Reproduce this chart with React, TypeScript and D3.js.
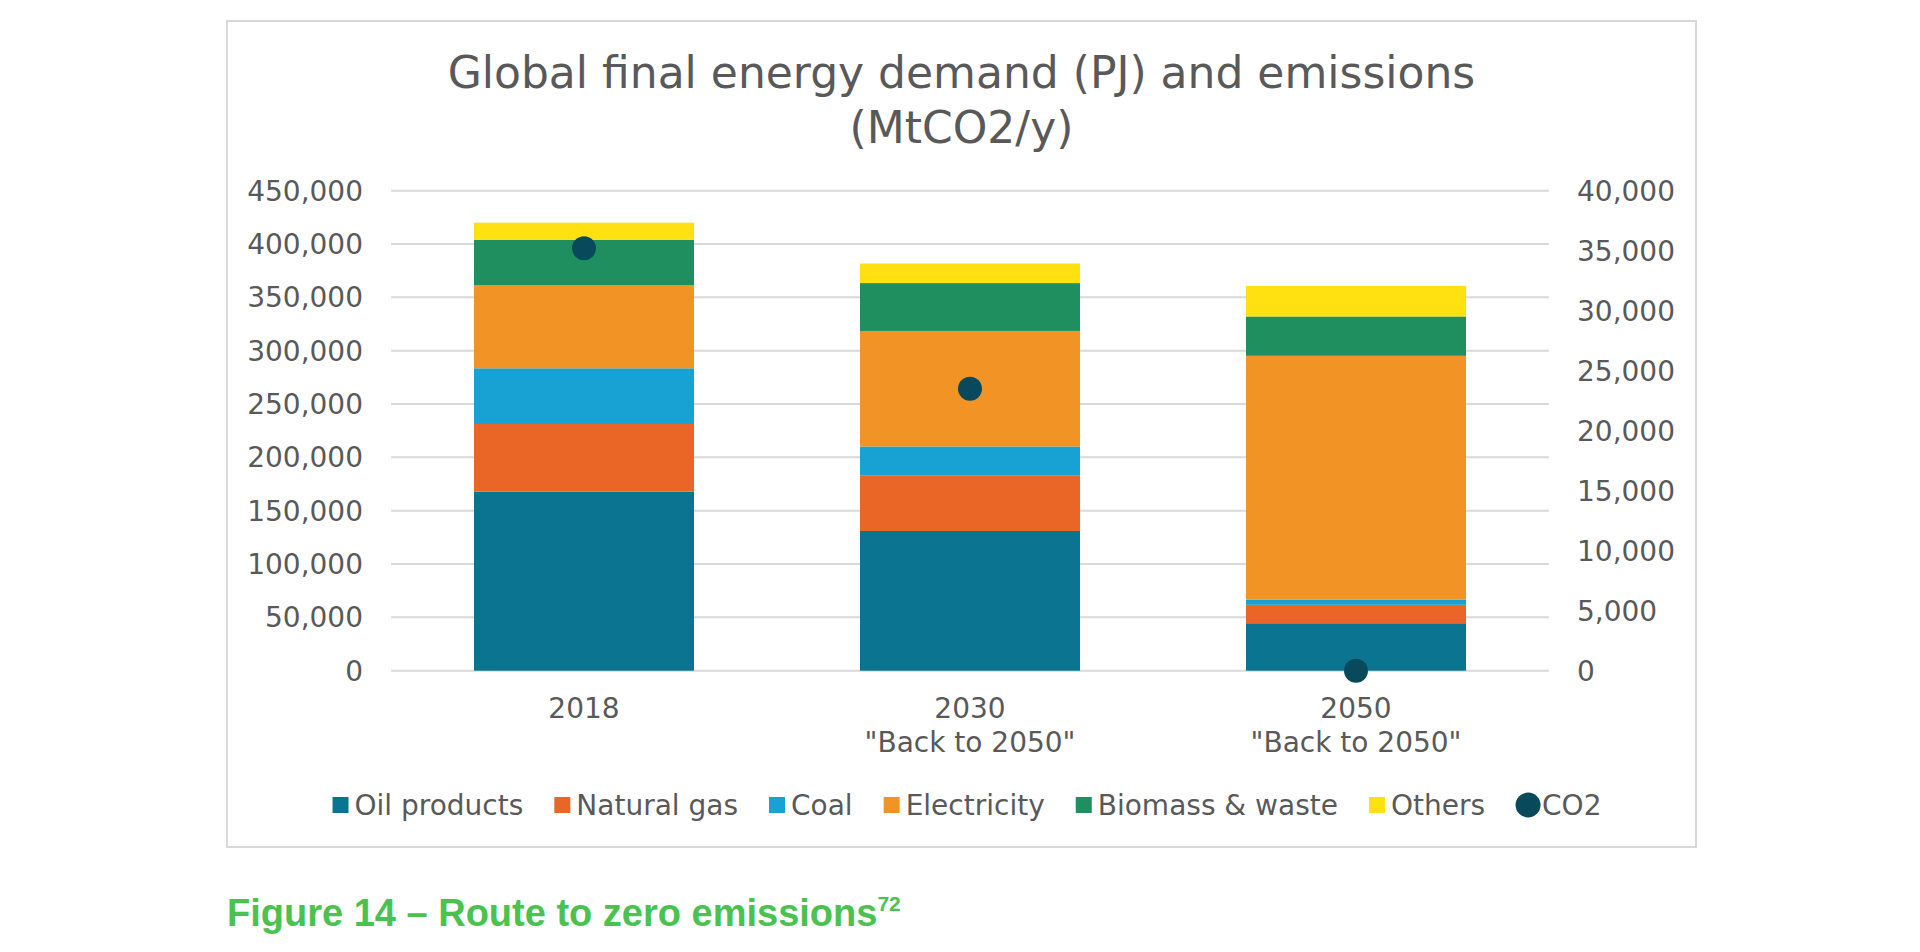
import React, { useEffect, useRef } from 'react';
import * as d3 from 'd3';

// Categories and series (PJ, left axis) and CO2 (MtCO2/y, right axis)
const categories = ["2018", "2030", "2050"];
const categorySubLabels = ["", "\"Back to 2050\"", "\"Back to 2050\""];
const seriesNames = ["Oil products", "Natural gas", "Coal", "Electricity", "Biomass & waste", "Others"];
const oilProducts = [168000, 131000, 44500];
const naturalGas = [63300, 51800, 17300];
const coal = [52200, 27400, 4700];
const electricity = [78100, 108300, 228700];
const biomassWaste = [42400, 44900, 36900];
const others = [16000, 18400, 28700];
const co2 = [35200, 23500, 0];
const leftTicks = [0, 50000, 100000, 150000, 200000, 250000, 300000, 350000, 400000, 450000];
const rightTicks = [0, 5000, 10000, 15000, 20000, 25000, 30000, 35000, 40000];

const colors = ["#0b7591", "#e96626", "#17a2d3", "#f29425", "#1f8f60", "#ffe011"];
const co2Color = "#08495c";
const textColor = "#595959";
const chartFont = "'DejaVu Sans', Verdana, sans-serif";

const App: React.FC = () => {
    const svgRef = useRef<SVGSVGElement>(null);

    useEffect(() => {
        if (!svgRef.current) return;

        const svg = d3.select(svgRef.current);
        svg.selectAll("*").remove();

        const width = 1920;
        const height = 952;

        svg.attr("width", width).attr("height", height);

        // background and chart frame
        svg.append("rect")
            .attr("width", width)
            .attr("height", height)
            .attr("fill", "white");

        svg.append("rect")
            .attr("x", 227)
            .attr("y", 21)
            .attr("width", 1469)
            .attr("height", 826)
            .attr("fill", "white")
            .attr("stroke", "#d9d9d9")
            .attr("stroke-width", 2);

        // Title
        const title = svg.append("text")
            .attr("x", 961.5)
            .attr("text-anchor", "middle")
            .attr("fill", textColor)
            .style("font-family", chartFont)
            .style("font-size", "44px");
        title.append("tspan").attr("x", 961.5).attr("y", 88).text("Global final energy demand (PJ) and emissions");
        title.append("tspan").attr("x", 961.5).attr("y", 143).text("(MtCO2/y)");

        // Scales
        const plot = { left: 391, right: 1549, top: 190.7, bottom: 670.7 };

        const x = d3.scaleBand<string>()
            .domain(categories)
            .range([plot.left, plot.right])
            .paddingInner(0.43)
            .paddingOuter(0.215);

        const y = d3.scaleLinear()
            .domain([0, 450000])
            .range([plot.bottom, plot.top]);

        const y2 = d3.scaleLinear()
            .domain([0, 40000])
            .range([plot.bottom, plot.top]);

        // Grid lines
        svg.append("g")
            .selectAll("line")
            .data(leftTicks)
            .enter().append("line")
            .attr("x1", plot.left)
            .attr("x2", plot.right)
            .attr("y1", d => y(d))
            .attr("y2", d => y(d))
            .attr("stroke", "#d9d9d9")
            .attr("stroke-width", 2);

        // Left axis labels
        svg.append("g")
            .selectAll("text")
            .data(leftTicks)
            .enter().append("text")
            .attr("x", plot.left - 28)
            .attr("y", d => y(d))
            .attr("dy", "0.36em")
            .attr("text-anchor", "end")
            .attr("fill", textColor)
            .style("font-family", chartFont)
            .style("font-size", "28px")
            .text(d => d3.format(",")(d));

        // Right axis labels
        svg.append("g")
            .selectAll("text")
            .data(rightTicks)
            .enter().append("text")
            .attr("x", plot.right + 28)
            .attr("y", d => y2(d))
            .attr("dy", "0.36em")
            .attr("text-anchor", "start")
            .attr("fill", textColor)
            .style("font-family", chartFont)
            .style("font-size", "28px")
            .text(d => d3.format(",")(d));

        // Stacked bars
        const table = categories.map((c, i) => ({
            category: c,
            "Oil products": oilProducts[i],
            "Natural gas": naturalGas[i],
            "Coal": coal[i],
            "Electricity": electricity[i],
            "Biomass & waste": biomassWaste[i],
            "Others": others[i]
        }));

        const stacked = d3.stack<any>().keys(seriesNames)(table);

        stacked.forEach((layer, li) => {
            svg.append("g")
                .selectAll("rect")
                .data(layer)
                .enter().append("rect")
                .attr("x", d => x(d.data.category) as number)
                .attr("width", x.bandwidth())
                .attr("y", d => y(d[1]))
                .attr("height", d => y(d[0]) - y(d[1]))
                .attr("fill", colors[li]);
        });

        // CO2 markers
        svg.append("g")
            .selectAll("circle")
            .data(co2)
            .enter().append("circle")
            .attr("cx", (d, i) => (x(categories[i]) as number) + x.bandwidth() / 2)
            .attr("cy", d => y2(d))
            .attr("r", 12)
            .attr("fill", co2Color);

        // Category labels
        const catLabels = svg.append("g")
            .selectAll("text")
            .data(categories)
            .enter().append("text")
            .attr("text-anchor", "middle")
            .attr("fill", textColor)
            .style("font-family", chartFont)
            .style("font-size", "28px");

        catLabels.append("tspan")
            .attr("x", d => (x(d) as number) + x.bandwidth() / 2)
            .attr("y", 718)
            .text(d => d);

        catLabels.append("tspan")
            .attr("x", d => (x(d) as number) + x.bandwidth() / 2)
            .attr("y", 752)
            .text((d, i) => categorySubLabels[i]);

        // Legend
        const legend = svg.append("g");
        const legendItems = [...seriesNames, "CO2"];
        let cursor = 0;
        legendItems.forEach((name, i) => {
            const item = legend.append("g").attr("transform", `translate(${cursor},0)`);
            if (i < seriesNames.length) {
                item.append("rect")
                    .attr("x", 0)
                    .attr("y", -8)
                    .attr("width", 16)
                    .attr("height", 16)
                    .attr("fill", colors[i]);
            } else {
                item.append("circle")
                    .attr("cx", 12)
                    .attr("cy", 0)
                    .attr("r", 12.5)
                    .attr("fill", co2Color);
            }
            const label = item.append("text")
                .attr("x", i < seriesNames.length ? 22 : 26)
                .attr("y", 0)
                .attr("dy", "0.36em")
                .attr("fill", textColor)
                .style("font-family", chartFont)
                .style("font-size", "28px")
                .text(name);
            const w = (label.node() as SVGTextElement).getComputedTextLength();
            cursor += (i < seriesNames.length ? 22 : 26) + w + 31;
        });
        const legendWidth = cursor - 31;
        legend.attr("transform", `translate(${967 - legendWidth / 2},805)`);

        // Figure caption
        const caption = svg.append("text")
            .attr("x", 227)
            .attr("y", 926)
            .attr("fill", "#4ac24f")
            .style("font-family", "'Liberation Sans', Arial, sans-serif")
            .style("font-weight", "bold")
            .style("font-size", "38px");
        caption.append("tspan").text("Figure 14 \u2013 Route to zero emissions");
        caption.append("tspan")
            .attr("dy", -15)
            .style("font-size", "21px")
            .text("72");

    }, []);

    return (
        <svg
            ref={svgRef}
            style={{ position: 'absolute', left: 0, top: 0, display: 'block' }}
        ></svg>
    );
};

export default App;
